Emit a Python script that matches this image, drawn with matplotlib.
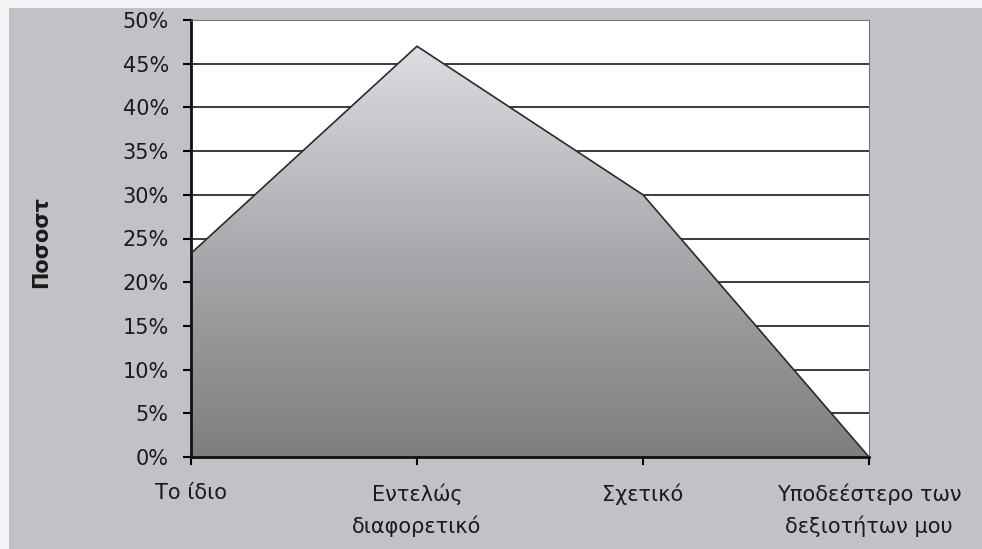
import matplotlib.pyplot as plt
import numpy as np
from matplotlib.colors import LinearSegmentedColormap
from matplotlib.patches import Rectangle

plt.rcParams['font.family'] = ['DejaVu Sans']

categories = ['Το ίδιο', 'Εντελώς\nδιαφορετικό', 'Σχετικό', 'Υποδεέστερο των\nδεξιοτήτων μου']
values = [23.3, 47.0, 30.0, 0.0]
yticks = [0, 5, 10, 15, 20, 25, 30, 35, 40, 45, 50]

W, H = 982, 549
fig = plt.figure(figsize=(W / 100, H / 100), dpi=100, facecolor='#f4f5f7')
# grey chart background, thin light margin on top and left
fig.add_artist(Rectangle((9 / W, 0), 1 - 9 / W, 1 - 8 / H, transform=fig.transFigure,
                         facecolor='#c0c2c8', edgecolor='none', zorder=-10))

ax = fig.add_axes([191 / W, 1 - 457 / H, (869 - 191) / W, (457 - 20) / H])
ax.set_facecolor('white')

x = np.arange(len(categories))
ax.set_xlim(0, len(categories) - 1)
ax.set_ylim(0, 50)

# horizontal grid
for t in yticks[1:]:
    ax.axhline(t, color='#1a1a1a', linewidth=1.2, zorder=1)

# area with vertical grey gradient
poly = ax.fill_between(x, values, 0, facecolor='none', edgecolor='none', zorder=2)
cmap = LinearSegmentedColormap.from_list('g', ['#7e7e80', '#a9a9ad', '#dcdce2'])
grad = np.linspace(0, 1, 256).reshape(-1, 1)
img = ax.imshow(grad, cmap=cmap, origin='lower', aspect='auto',
                extent=[0, len(categories) - 1, 0, max(values)], zorder=2)
img.set_clip_path(poly.get_paths()[0], transform=ax.transData)
ax.plot(x, values, color='#2a2a2a', linewidth=1.2, zorder=3)

ax.set_yticks(yticks)
ax.set_yticklabels([f'{t}%' for t in yticks], fontsize=15, color='#1a1a1a')
ax.set_xticks(x)
ax.set_xticklabels(categories, fontsize=15, color='#1a1a1a', linespacing=1.6)
ax.tick_params(axis='y', length=6, width=1.5, direction='out', pad=10)
ax.tick_params(axis='x', length=6, width=1.5, direction='out', pad=13)

ax.spines['left'].set_color('#111111')
ax.spines['left'].set_linewidth(2)
ax.spines['bottom'].set_color('#111111')
ax.spines['bottom'].set_linewidth(2)
ax.spines['right'].set_color('#777777')
ax.spines['top'].set_color('#777777')

fig.text(41 / W, 1 - 242 / H, 'Ποσοστ', rotation=90, fontsize=15,
         fontweight='bold', ha='center', va='center', color='#1a1a1a')

fig.savefig('out.png', dpi=100, facecolor=fig.get_facecolor())
